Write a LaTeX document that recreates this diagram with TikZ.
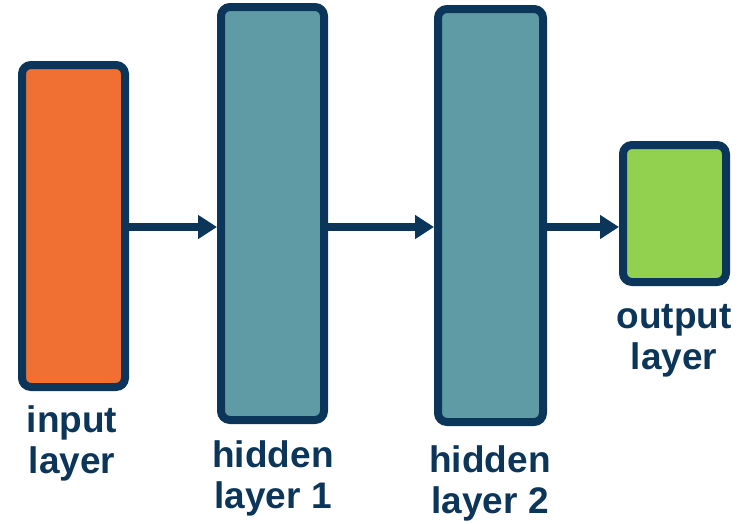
\documentclass[tikz,border=0pt]{standalone}
\usepackage{fontspec}
\setmainfont{Liberation Sans}
\usetikzlibrary{arrows.meta}
\definecolor{navy}{HTML}{0B3559}
\definecolor{inorange}{HTML}{F07033}
\definecolor{hidteal}{HTML}{5F9BA5}
\definecolor{outgreen}{HTML}{92D050}
\begin{document}
\begin{tikzpicture}[x=1pt,y=-1pt,
  layerbox/.style={draw=navy, line width=8pt, rounded corners=9pt, inner sep=0pt},
  flow/.style={draw=navy, line width=7.5pt, -{Triangle[length=19pt,width=23pt]}},
  lbl/.style={text=navy, font=\fontsize{37}{41}\selectfont\bfseries, align=center, inner sep=0pt, anchor=base}]
\useasboundingbox (0,0) rectangle (748,523);
\node[layerbox, fill=inorange, minimum width=103pt, minimum height=322pt] (inp) at (73.5,226) {};
\node[layerbox, fill=hidteal, minimum width=103pt, minimum height=413pt] (h1) at (272.5,213.5) {};
\node[layerbox, fill=hidteal, minimum width=105pt, minimum height=413pt] (h2) at (490.5,215.5) {};
\node[layerbox, fill=outgreen, minimum width=103pt, minimum height=137pt] (out) at (674.5,213.5) {};
\coordinate (ay) at (0,227);
\draw[flow] (inp.east |- ay) -- (h1.west |- ay);
\draw[flow] (h1.east |- ay) -- (h2.west |- ay);
\draw[flow] (h2.east |- ay) -- (out.west |- ay);
\node[lbl] (inpl) at (72,473) {input\\layer};
\node[lbl] (h1l) at (273,508) {hidden\\layer 1};
\node[lbl] (h2l) at (490,513) {hidden\\layer 2};
\node[lbl] (outl) at (674,369) {output\\layer};
\end{tikzpicture}
\end{document}
